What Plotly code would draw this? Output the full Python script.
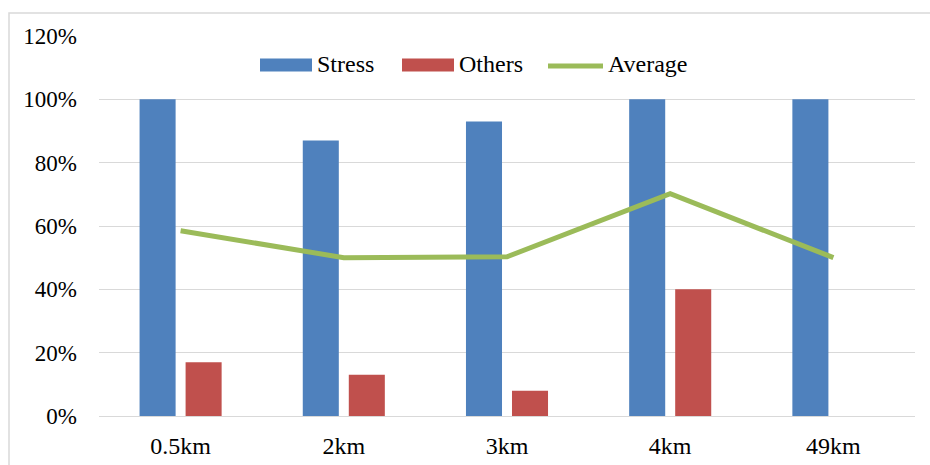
import plotly.graph_objects as go

# Distance categories and shares (in %)
categories = ["0.5km", "2km", "3km", "4km", "49km"]
stress = [100, 87, 93, 100, 100]
others = [17, 13, 8, 40, 0]
average = [58.5, 50, 50.3, 70.2, 50]
y_ticks = [0, 20, 40, 60, 80, 100, 120]
y_tick_text = [f"{v}%" for v in y_ticks]

series_names = ["Stress", "Others", "Average"]
series_colors = ["#4F81BD", "#C0504D", "#9BBB59"]

FONT = "Liberation Serif"
FS_Y = 23
FS_X = 24
FS_LEG = 24

fig = go.Figure()
fig.add_trace(go.Bar(name=series_names[0], x=categories, y=stress,
                     marker=dict(color=series_colors[0], line=dict(width=0))))
fig.add_trace(go.Bar(name=series_names[1], x=categories, y=others,
                     marker=dict(color=series_colors[1], line=dict(width=0))))
fig.add_trace(go.Scatter(name=series_names[2], x=categories, y=average, mode="lines",
                         line=dict(color=series_colors[2], width=5)))

W, H = 930, 465
L, R, T, B = 99, 15, 36, 49
pw, ph = W - L - R, H - T - B


def px_x(x):
    return (x - L) / pw


def px_y(y):
    return (H - B - y) / ph


# Legend row drawn across the top of the plot: swatch + label per series
legend_y = 65
legend_items = [(260, 312, "bar"), (402, 454, "bar"), (548, 603, "line")]
shapes = [dict(type="rect", xref="paper", yref="paper",
               x0=px_x(9), x1=px_x(940), y0=px_y(475), y1=px_y(13),
               line=dict(color="#D9D9D9", width=1.5), fillcolor="rgba(0,0,0,0)",
               layer="below")]
annotations = []
for (x0, x1, kind), name, color in zip(legend_items, series_names, series_colors):
    if kind == "bar":
        shapes.append(dict(type="rect", xref="paper", yref="paper",
                           x0=px_x(x0), x1=px_x(x1),
                           y0=px_y(legend_y + 6.5), y1=px_y(legend_y - 6.5),
                           fillcolor=color, line=dict(width=0)))
    else:
        shapes.append(dict(type="line", xref="paper", yref="paper",
                           x0=px_x(x0), x1=px_x(x1),
                           y0=px_y(legend_y + 1), y1=px_y(legend_y + 1),
                           line=dict(color=color, width=5)))
    annotations.append(dict(text=name, xref="paper", yref="paper",
                            x=px_x(x1 + 3), y=px_y(legend_y - 0.5), xanchor="left",
                            yanchor="middle", showarrow=False,
                            font=dict(family=FONT, size=FS_LEG, color="#000000")))

fig.update_layout(
    width=W, height=H,
    margin=dict(l=L, r=R, t=T, b=B, pad=0),
    paper_bgcolor="white", plot_bgcolor="white",
    barmode="group", bargap=0.436, bargroupgap=0.217,
    font=dict(family=FONT, size=FS_Y, color="#000000"),
    showlegend=False,
    xaxis=dict(showgrid=False, showline=True, linecolor="#D9D9D9", linewidth=1,
               ticks="", ticklabelstandoff=8, automargin=False,
               tickfont=dict(family=FONT, size=FS_X)),
    yaxis=dict(range=[0, 120], tickvals=y_ticks, ticktext=y_tick_text,
               showgrid=True, gridcolor="#D9D9D9", gridwidth=1, zeroline=False,
               showline=False, ticks="", ticklabelstandoff=21, automargin=False,
               tickfont=dict(family=FONT, size=FS_Y)),
    shapes=shapes,
    annotations=annotations,
)

fig.write_html("out.html")
